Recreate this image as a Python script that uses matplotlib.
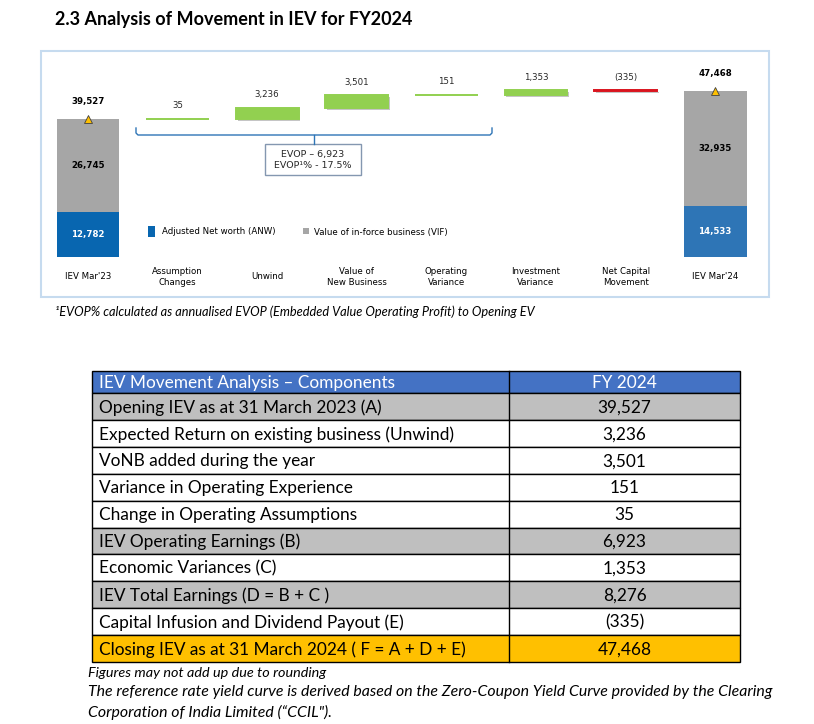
import matplotlib
matplotlib.use("Agg")
import matplotlib.pyplot as plt
import matplotlib.patheffects as pe
from matplotlib.patches import Rectangle

# Waterfall values (IEV movement FY2024)
opening_anw = 12782
opening_vif = 26745
closing_anw = 14533
closing_vif = 32935
step_labels = ["Assumption\nChanges", "Unwind", "Value of\nNew Business",
               "Operating\nVariance", "Investment\nVariance", "Net Capital\nMovement"]
step_values = [35, 3236, 3501, 151, 1353, -335]
total_labels = ["IEV Mar'23", "IEV Mar'24"]
evop_value = 6923
evop_pct = 17.5

# Table values
table_header = ["IEV Movement Analysis \u2013 Components", "FY 2024"]
table_rows = [
    "Opening IEV as at 31 March 2023 (A)",
    "Expected Return on existing business (Unwind)",
    "VoNB added during the year",
    "Variance in Operating Experience",
    "Change in Operating Assumptions",
    "IEV Operating Earnings (B)",
    "Economic Variances (C)",
    "IEV Total Earnings (D = B + C )",
    "Capital Infusion and Dividend Payout (E)",
    "Closing IEV as at 31 March 2024 ( F = A + D + E)",
]
table_values = [39527, 3236, 3501, 151, 35, 6923, 1353, 8276, -335, 47468]

title = "2.3 Analysis of Movement in IEV for FY2024"
chart_note = "\u00b9EVOP% calculated as annualised EVOP (Embedded Value Operating Profit) to Opening EV"
footnotes = [
    "Figures may not add up due to rounding",
    "The reference rate yield curve is derived based on the Zero-Coupon Yield Curve provided by the Clearing",
    "Corporation of India Limited (\u201cCCIL\").",
]

BLUE_1 = "#0866B0"
BLUE_2 = "#2E75B6"
GREY = "#A6A6A6"
GREEN = "#92D050"
RED = "#D9141E"
DOC_FONT = "Lato"
CHART_FONT = "DejaVu Sans"
CHART_FS = 6.2
TABLE_FS = 12.4


def fmt(v):
    return f"({abs(v):,})" if v < 0 else f"{v:,}"


W, H = 814, 724
fig = plt.figure(figsize=(W / 100, H / 100), dpi=100)

# page axes in pixel coordinates for the document furniture
page = fig.add_axes([0, 0, 1, 1])
page.set_xlim(0, W)
page.set_ylim(H, 0)
page.axis("off")

page.text(55, 20, title, fontsize=13, fontweight="bold", family=DOC_FONT, va="center")

# chart frame
page.add_patch(Rectangle((41, 51), 728, 246, fill=False, ec="#C6DBEF", lw=1.5))

# waterfall axes
ax_left, ax_right, ax_bottom, ax_top = 43.2, 760.0, 257.0, 60.0
ax = fig.add_axes([ax_left / W, (H - ax_bottom) / H, (ax_right - ax_left) / W, (ax_bottom - ax_top) / H])
ax.patch.set_alpha(0)
ax.set_xlim(-0.5, 7.5)
ax.set_ylim(0, 56430)
ax.axis("off")

bw = 0.7
shadow = [pe.SimplePatchShadow(offset=(1.2, -1.5), shadow_rgbFace="#808080", alpha=0.45), pe.Normal()]


def total_bar(x, anw, vif, anw_color, label):
    total = anw + vif
    ax.bar(x, anw, width=bw, color=anw_color)
    ax.bar(x, vif, bottom=anw, width=bw, color=GREY)
    ax.plot(x, total, marker="^", ms=6, mfc="#FFC000", mec="#404040", mew=0.6, zorder=5)
    ax.annotate(f"{total:,}", (x, total), xytext=(0, 18), textcoords="offset pixels",
                ha="center", va="center", fontsize=CHART_FS, fontweight="bold", family=CHART_FONT)
    ax.text(x, anw + vif / 2, f"{vif:,}", ha="center", va="center", fontsize=CHART_FS,
            fontweight="bold", family=CHART_FONT)
    ax.text(x, anw / 2, f"{anw:,}", ha="center", va="center", fontsize=CHART_FS,
            fontweight="bold", color="white", family=CHART_FONT)
    ax.annotate(label, (x, 0), xytext=(0, -20), textcoords="offset pixels",
                ha="center", va="center", fontsize=CHART_FS, family=CHART_FONT)


total_bar(0, opening_anw, opening_vif, BLUE_1, total_labels[0])

running = opening_anw + opening_vif
for i, (lab, v) in enumerate(zip(step_labels, step_values), start=1):
    bottom = running if v >= 0 else running + v
    color = GREEN if v >= 0 else RED
    ax.bar(i, abs(v), bottom=bottom, width=bw, color=color, edgecolor=color,
           linewidth=1.4, path_effects=shadow)
    ax.annotate(fmt(v), (i, bottom + abs(v)), xytext=(0, 13), textcoords="offset pixels",
                ha="center", va="center", fontsize=CHART_FS, family=CHART_FONT, color="#262626")
    ax.annotate(lab, (i, 0), xytext=(0, -20), textcoords="offset pixels",
                ha="center", va="center", fontsize=CHART_FS, family=CHART_FONT,
                multialignment="center", linespacing=1.2)
    running += v

total_bar(7, closing_anw, closing_vif, BLUE_2, total_labels[1])

# EVOP bracket and call-out box
bracket_col = "#2E75B6"
page.plot([136, 136, 138, 490, 492, 492], [128, 133, 135, 135, 133, 128], color=bracket_col, lw=1)
page.plot([314, 314], [135, 144], color=bracket_col, lw=1)
page.add_patch(Rectangle((265, 144), 96, 31, fc="white", ec="#8497B0", lw=1))
page.text(313, 154.5, f"EVOP \u2013 {evop_value:,}", ha="center", va="center",
          fontsize=6.8, family=CHART_FONT, color="#262626")
page.text(313, 166, f"EVOP\u00b9% - {evop_pct}%", ha="center", va="center",
          fontsize=6.8, family=CHART_FONT, color="#262626")

# legend
page.add_patch(Rectangle((148, 226), 7, 11, fc=BLUE_1, ec="none"))
page.text(162, 232, "Adjusted Net worth (ANW)", va="center", fontsize=CHART_FS, family=CHART_FONT)
page.add_patch(Rectangle((303, 228), 6, 6, fc=GREY, ec="none"))
page.text(314, 232, "Value of in-force business (VIF)", va="center", fontsize=CHART_FS, family=CHART_FONT)

page.text(55, 312, chart_note, va="center", fontsize=9.2, style="italic", family=DOC_FONT)

# table
t_left, t_mid, t_right = 92, 509, 740
t_top, head_bottom, row_h = 371, 393, 26.9
grey_rows = {0, 5, 7}
gold_row = 9

page.add_patch(Rectangle((t_left, t_top), t_right - t_left, head_bottom - t_top, fc="#4472C4", ec="black", lw=1))
page.text(t_left + 7, (t_top + head_bottom) / 2 + 1, table_header[0], va="center",
          fontsize=TABLE_FS, family=DOC_FONT, color="white")
page.text((t_mid + t_right) / 2, (t_top + head_bottom) / 2 + 1, table_header[1], ha="center",
          va="center", fontsize=TABLE_FS, family=DOC_FONT, color="white")
for r, (lab, val) in enumerate(zip(table_rows, table_values)):
    y0 = head_bottom + r * row_h
    fill = "#BFBFBF" if r in grey_rows else ("#FFC000" if r == gold_row else "white")
    page.add_patch(Rectangle((t_left, y0), t_right - t_left, row_h, fc=fill, ec="black", lw=1))
    page.text(t_left + 7, y0 + row_h / 2 + 1, lab, va="center", fontsize=TABLE_FS, family=DOC_FONT)
    page.text((t_mid + t_right) / 2, y0 + row_h / 2 + 1, fmt(val), ha="center", va="center",
              fontsize=TABLE_FS, family=DOC_FONT)
t_bottom = head_bottom + len(table_rows) * row_h
page.plot([t_mid, t_mid], [t_top, t_bottom], color="black", lw=1)

for k, (note, y) in enumerate(zip(footnotes, [673, 692, 712])):
    page.text(88, y, note, va="center", fontsize=10.4 if k == 0 else 11.4, style="italic", family=DOC_FONT)

fig.savefig("out.png", dpi=100)
